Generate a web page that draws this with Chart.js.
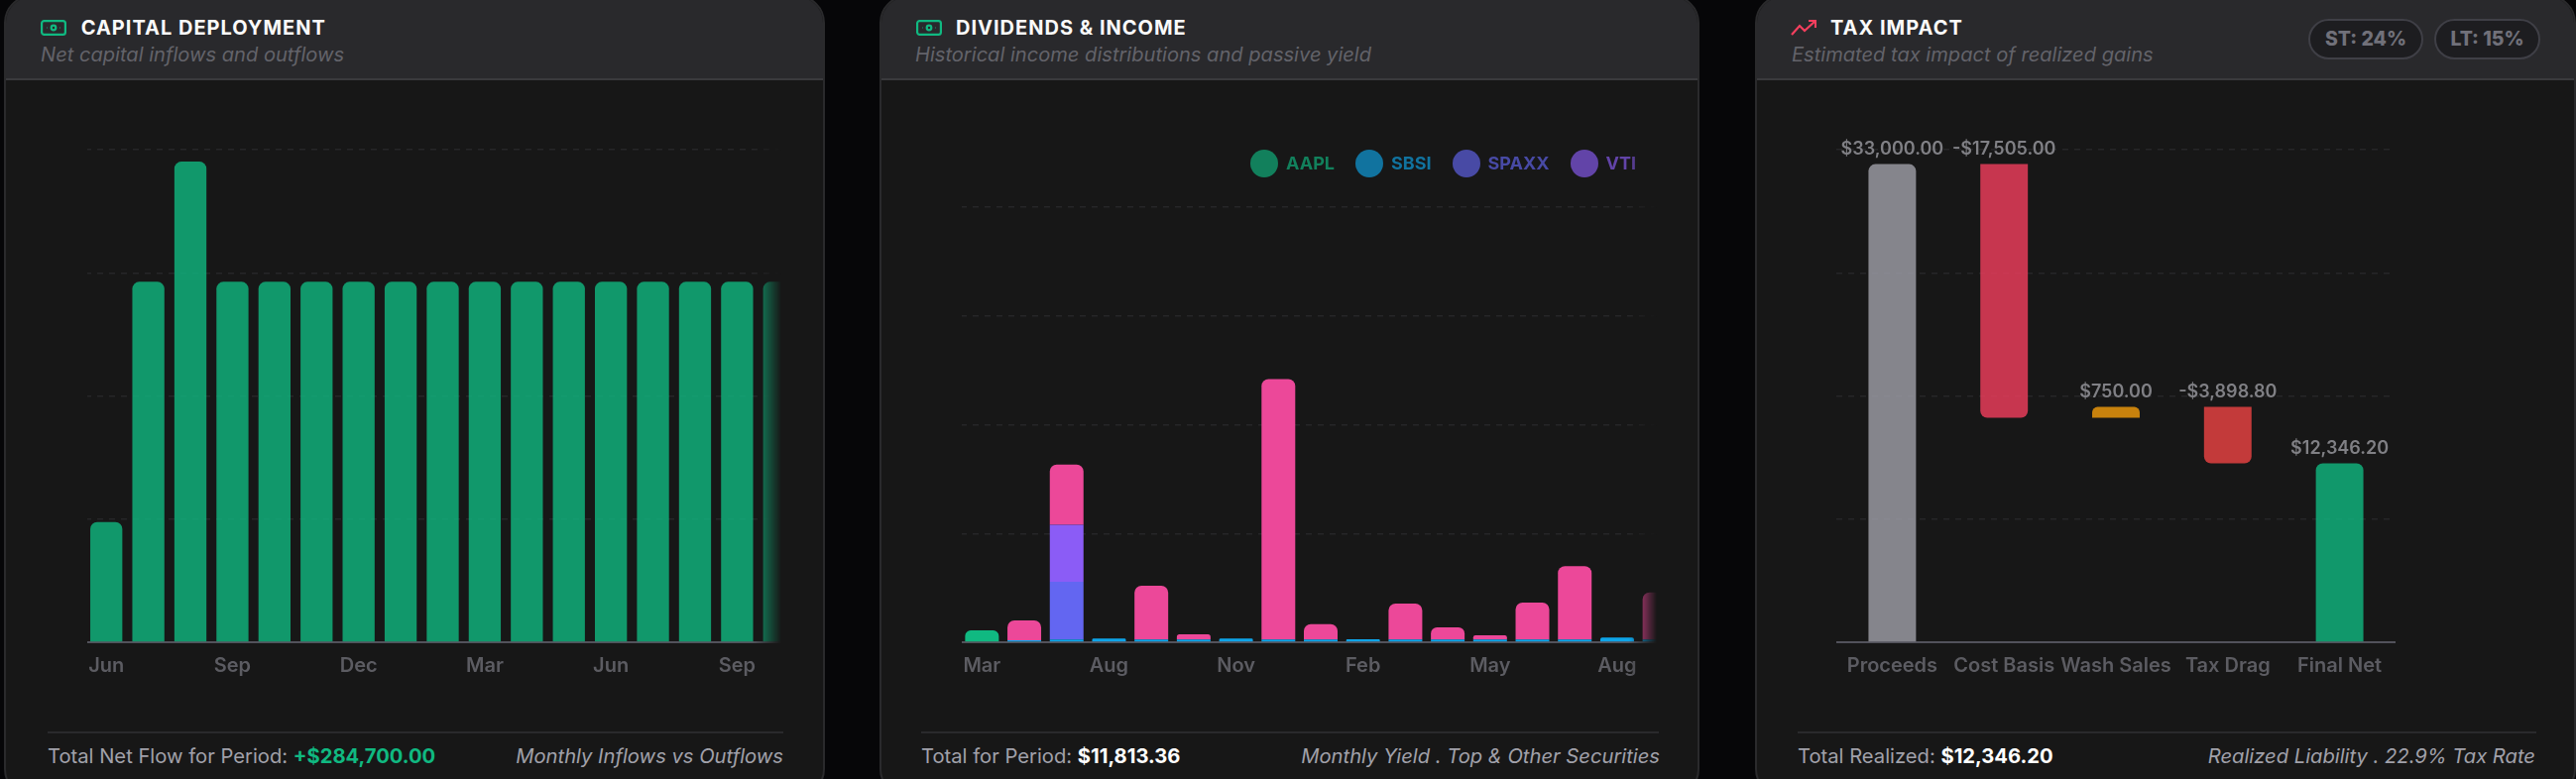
<!DOCTYPE html>
<html>
<head>
<meta charset="utf-8">
<title>Portfolio Analytics</title>
<script src="https://cdn.jsdelivr.net/npm/chart.js@4"></script>
<style>
  html, body { margin: 0; padding: 0; width: 2598px; height: 786px; overflow: hidden; background: #060608; font-family: Inter, sans-serif; }
  .card { position: absolute; top: -5px; height: 809px; box-sizing: border-box; background: #171717; border: 2px solid #2a2a2c; border-radius: 28px; overflow: hidden; }
  .head { position: absolute; left: 0; right: 0; top: 0; height: 84px; box-sizing: border-box; background: #29292c; border-bottom: 2px solid #3a3a3d; }
  .abs { position: absolute; white-space: nowrap; }
  .title { top: 18.5px; font-size: 20px; line-height: 24px; font-weight: 700; letter-spacing: 1px; color: #fafafa; }
  .sub { top: 47px; font-size: 20.1px; line-height: 22px; font-style: italic; color: #63636a; }
  .icon { top: 23px; }
  .rule { position: absolute; top: 741px; height: 2px; background: #2a2a2c; }
  .foot-l { top: 754.7px; font-size: 20.2px; line-height: 22px; color: #a1a1aa; }
  .foot-l b { font-weight: 700; color: #fff; }
  .foot-l b.up { color: #10b981; }
  .foot-r { top: 754.7px; font-size: 20.2px; line-height: 22px; font-style: italic; color: #a1a1aa; }
  .pill { top: 22px; height: 41px; box-sizing: border-box; border: 2px solid #3f3f46; border-radius: 21px; background: #1d1d20; color: #71717a; font-size: 19.5px; line-height: 37px; font-weight: 800; text-align: center; }
  .clip { position: absolute; overflow: hidden; -webkit-mask-image: linear-gradient(to right, #000 calc(100% - 28px), transparent); mask-image: linear-gradient(to right, #000 calc(100% - 28px), transparent); }
  canvas { position: absolute; display: block; }
  #legend { position: absolute; display: flex; gap: 21px; opacity: 0.65; }
  .item { display: flex; align-items: center; gap: 8px; font-size: 18px; font-weight: 700; line-height: 28px; white-space: nowrap; }
  .dot { width: 28px; height: 28px; border-radius: 50%; }
</style>
</head>
<body>

<div class="card" style="left:4px;width:828px">
  <div class="head"></div>
  <svg class="abs icon" style="left:35px" width="26" height="16" viewBox="0 0 26 16" fill="none" stroke="#10b981" stroke-width="2.2"><rect x="1.1" y="1.1" width="23.8" height="13.8" rx="2.4"/><circle cx="13" cy="8" r="2.3"/><path d="M6 8h.4M19.6 8h.4"/></svg>
  <div class="abs title" style="left:75.7px">CAPITAL DEPLOYMENT</div>
  <div class="abs sub" style="left:35px">Net capital inflows and outflows</div>
  <div class="clip" style="left:82px;top:105px;width:700px;height:600px"><canvas id="capitalChart"></canvas></div>
  <div class="rule" style="left:42px;width:742px"></div>
  <div class="abs foot-l" style="left:42px">Total Net Flow for Period: <b class="up">+$284,700.00</b></div>
  <div class="abs foot-r" style="right:40px">Monthly Inflows vs Outflows</div>
</div>

<div class="card" style="left:887px;width:827px">
  <div class="head"></div>
  <svg class="abs icon" style="left:35px" width="26" height="16" viewBox="0 0 26 16" fill="none" stroke="#10b981" stroke-width="2.2"><rect x="1.1" y="1.1" width="23.8" height="13.8" rx="2.4"/><circle cx="13" cy="8" r="2.3"/><path d="M6 8h.4M19.6 8h.4"/></svg>
  <div class="abs title" style="left:75px">DIVIDENDS &amp; INCOME</div>
  <div class="abs sub" style="left:34px">Historical income distributions and passive yield</div>
  <div class="clip" style="left:81px;top:105px;width:701px;height:600px"><div id="legend" style="left:291px;top:49px"></div><canvas id="incomeChart"></canvas></div>
  <div class="rule" style="left:40px;width:744px"></div>
  <div class="abs foot-l" style="left:40px">Total for Period: <b>$11,813.36</b></div>
  <div class="abs foot-r" style="right:38px">Monthly Yield . Top &amp; Other Securities</div>
</div>

<div class="card" style="left:1770px;width:828px">
  <div class="head"></div>
  <svg class="abs icon" style="left:34px" width="26" height="16" viewBox="0 0 26 16" fill="none" stroke="#f43f5e" stroke-width="2.2"><path d="M1 15 9 6l5 5L25 1"/><path d="M18 1h7v7"/></svg>
  <div class="abs title" style="left:74px">TAX IMPACT</div>
  <div class="abs sub" style="left:35px">Estimated tax impact of realized gains</div>
  <div class="abs pill" style="left:556px;width:116px">ST: 24%</div>
  <div class="abs pill" style="left:683px;width:107px">LT: 15%</div>
  <canvas id="taxChart"></canvas>
  <div class="rule" style="left:41px;width:745px"></div>
  <div class="abs foot-l" style="left:41px">Total Realized: <b>$12,346.20</b></div>
  <div class="abs foot-r" style="right:39px">Realized Liability . 22.9% Tax Rate</div>
</div>

<script>
// monthly net flows
const capitalMonths = ['Jun', 'Jul', 'Aug', 'Sep', 'Oct', 'Nov', 'Dec', 'Jan', 'Feb', 'Mar', 'Apr', 'May', 'Jun', 'Jul', 'Aug', 'Sep', 'Oct'];
const capitalFlows = [5000, 15000, 20000, 15000, 15000, 15000, 15000, 15000, 15000, 15000, 15000, 15000, 15000, 15000, 15000, 15000, 15000];

// dividends by security
const incomeMonths = ['Mar', 'Jun', 'Jul', 'Aug', 'Sep', 'Oct', 'Nov', 'Dec', 'Jan', 'Feb', 'Mar', 'Apr', 'May', 'Jun', 'Jul', 'Aug', 'Sep'];
const aapl  = [164, 0, 0, 0, 0, 0, 0, 0, 0, 0, 0, 0, 0, 0, 0, 0, 0];
const sbsi  = [0, 27, 37, 50, 37, 37, 50, 37, 37, 41, 37, 37, 37, 37, 37, 64, 37];
const spaxx = [0, 0, 796, 0, 0, 0, 0, 0, 0, 0, 0, 0, 0, 0, 0, 0, 0];
const vti   = [0, 0, 788, 0, 0, 0, 0, 0, 0, 0, 0, 0, 0, 0, 0, 0, 0];
const other = [0, 273, 829, 0, 742, 72, 0, 3593, 213, 0, 496, 168, 59, 510, 1011, 0, 650];
const incomeNames = ['AAPL', 'SBSI', 'SPAXX', 'VTI', 'Other'];
const incomeColors = ['#10b981', '#0ea5e9', '#6366f1', '#8b5cf6', '#ec4899'];

// realized gains waterfall
const taxSteps = ['Proceeds', 'Cost Basis', 'Wash Sales', 'Tax Drag', 'Final Net'];
const taxValues = [33000, -17505, 750, -3898.8, 12346.2];
const taxColors = ['rgba(161,161,170,.8)', 'rgba(244,63,94,.8)', 'rgba(245,158,11,.8)', 'rgba(239,68,68,.8)', 'rgba(16,185,129,.8)'];

const TICK_FONT = { family: 'Inter', size: 20, weight: '600' };
const PLOT_PAD = 30; // room above the plot for the top grid line and value labels

// y scale with hidden labels, dashed grid; x scale with a fixed height so the plot box is predictable
function scales(yMax, everyTick) {
  return {
    x: {
      grid: { display: false },
      border: { color: '#52525b', width: 2 },
      ticks: {
        color: '#5c5c62', font: TICK_FONT, padding: 4, autoSkip: false, maxRotation: 0,
        callback(v, i) { return everyTick || i % 3 === 0 ? this.getLabelForValue(v) : ''; }
      },
      afterFit(s) { s.paddingLeft = 0; s.paddingRight = 0; s.height = 40; }
    },
    y: {
      min: 0, max: yMax,
      afterBuildTicks(s) { s.ticks = [0, 1, 2, 3, 4].map(i => ({ value: yMax * i / 4 })); },
      grid: { color: '#262628', lineWidth: 1.5, drawTicks: false },
      border: { display: false, dash: [6, 6] },
      ticks: { display: false },
      afterFit(s) { s.width = 0; }
    }
  };
}

function placeCanvas(id, left, top, width, plotTop) {
  // axis sits at y=648 on the page; top is the canvas offset that puts plotTop in place
  const el = document.getElementById(id);
  el.width = width;
  el.height = 648 + 40 - plotTop + PLOT_PAD;
  el.style.left = left + 'px';
  el.style.top = (top - PLOT_PAD) + 'px';
  return el;
}

function baseOptions(yMax, everyTick) {
  return {
    responsive: false,
    animation: false,
    layout: { padding: { top: PLOT_PAD } },
    plugins: { legend: { display: false }, tooltip: { enabled: false } },
    scales: scales(yMax, everyTick)
  };
}

Chart.defaults.font.family = 'Inter';

new Chart(placeCanvas('capitalChart', -2, 48.7, 721, 150.7), {
  type: 'bar',
  data: {
    labels: capitalMonths,
    datasets: [{
      data: capitalFlows,
      backgroundColor: 'rgba(16,185,129,.8)',
      barPercentage: 0.762,
      categoryPercentage: 1,
      borderSkipped: false,
      borderRadius: { topLeft: 7, topRight: 7, bottomLeft: 0, bottomRight: 0 }
    }]
  },
  options: baseOptions(20500, false)
});

// round only the top filled segment in each stack
const incomeSeries = [aapl, sbsi, spaxx, vti, other];
function topSegment(i) {
  for (let s = incomeSeries.length - 1; s >= 0; s--) {
    if (incomeSeries[s][i] > 0) return s;
  }
  return -1;
}

const incomeOptions = baseOptions(6000, false);
incomeOptions.scales.x.stacked = true;
incomeOptions.scales.y.stacked = true;

new Chart(placeCanvas('incomeChart', -1, 106.7, 726, 208.7), {
  type: 'bar',
  data: {
    labels: incomeMonths,
    datasets: incomeSeries.map((values, s) => ({
      label: incomeNames[s],
      data: values,
      backgroundColor: incomeColors[s],
      barPercentage: 0.796,
      categoryPercentage: 1,
      borderSkipped: false,
      borderRadius(ctx) {
        const r = topSegment(ctx.dataIndex) === s ? 7 : 0;
        return { topLeft: r, topRight: r, bottomLeft: 0, bottomRight: 0 };
      }
    }))
  },
  options: incomeOptions
});

// html legend, same colours as the stacks
const legendEl = document.getElementById('legend');
incomeNames.forEach((name, i) => {
  const item = document.createElement('div');
  item.className = 'item';
  item.style.color = incomeColors[i];
  item.innerHTML = '<span class="dot" style="background:' + incomeColors[i] + '"></span>' + name;
  legendEl.appendChild(item);
});

// waterfall: each step floats from the running total
let running = 0;
const taxRanges = taxValues.map((v, i) => {
  if (i === taxValues.length - 1) return [0, v];
  const start = running;
  running += v;
  return [Math.min(start, running), Math.max(start, running)];
});

function money(v) {
  const s = '$' + Math.abs(v).toLocaleString('en-US', { minimumFractionDigits: 2, maximumFractionDigits: 2 });
  return v < 0 ? '-' + s : s;
}

const stepLabels = {
  id: 'stepLabels',
  afterDatasetsDraw(chart) {
    const { ctx } = chart;
    ctx.save();
    ctx.font = '600 18px Inter';
    ctx.fillStyle = '#808085';
    ctx.textAlign = 'center';
    ctx.textBaseline = 'bottom';
    chart.getDatasetMeta(0).data.forEach((bar, i) => {
      ctx.fillText(money(taxValues[i]), bar.x, Math.min(bar.y, bar.base) - 6);
    });
    ctx.restore();
  }
};

new Chart(placeCanvas('taxChart', 80, 154, 564, 151), {
  type: 'bar',
  data: {
    labels: taxSteps,
    datasets: [{
      data: taxRanges,
      backgroundColor: taxColors,
      barPercentage: 0.425,
      categoryPercentage: 1,
      borderSkipped: false,
      borderRadius(ctx) {
        const down = taxValues[ctx.dataIndex] < 0;
        return {
          topLeft: down ? 0 : 7, topRight: down ? 0 : 7,
          bottomLeft: down ? 7 : 0, bottomRight: down ? 7 : 0
        };
      }
    }]
  },
  options: baseOptions(34000, true),
  plugins: [stepLabels]
});
</script>
</body>
</html>
